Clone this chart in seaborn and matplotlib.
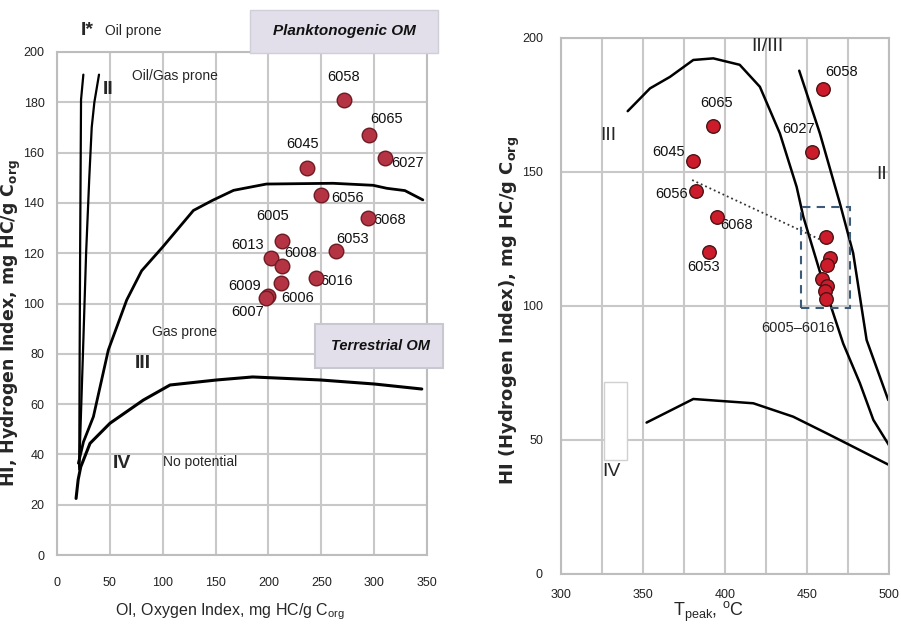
import numpy as np
import pandas as pd
import seaborn as sns
import matplotlib.pyplot as plt
from matplotlib.patches import Rectangle

# left panel: HI vs OI (pseudo van Krevelen)
left_samples = ["6058", "6065", "6027", "6045", "6056", "6068", "6005",
                "6013", "6008", "6053", "6016", "6006", "6009", "6007"]
oi_values = [271, 295, 310, 236, 250, 294, 213, 202, 213, 264, 245, 212, 200, 198]
hi_left = [181, 167, 158, 154, 143, 134, 125, 118, 115, 121, 110, 108, 103, 102]

type1_oi = [21, 21.4, 21.8, 22.7, 24.9]
type1_hi = [34, 80, 117, 181, 191]
type2_oi = [21, 24.5, 27.5, 30.5, 32.8, 35.3, 39.7]
type2_hi = [35, 80, 120, 150, 170, 180, 191]
type3_oi = [20.2, 25, 34.4, 48.5, 65.9, 80, 100, 129, 147, 167, 198, 261, 299, 312, 329, 346]
type3_hi = [36.5, 45, 55, 81.5, 101.4, 113, 122.5, 137, 141, 145, 147.5, 147.8, 147, 145.8, 144.9, 141.2]
type4_oi = [18, 20, 22.4, 31.2, 50.1, 81.6, 106.9, 151, 185, 249, 300, 345]
type4_hi = [22.5, 30, 35, 44.4, 52.4, 61.6, 67.6, 69.6, 70.8, 69.6, 68, 66]

# right panel: HI vs Tpeak
right_samples = ["6058", "6065", "6027", "6045", "6056", "6068", "6053",
                 "", "", "", "", "", "", ""]
tpeak_values = [459.6, 392.5, 453.3, 380.3, 382.1, 395, 390.4,
                461.4, 464, 462.4, 459.3, 462, 461, 461.4]
hi_right = [181, 167.2, 157.6, 154.2, 143, 133.3, 120.3,
            125.9, 117.8, 115.3, 110.1, 107.5, 105.7, 102.5]

arc3_t = [340.7, 354.3, 366.5, 380.7, 392.9, 409, 421.3, 433.5, 443.7, 447.8,
          460, 472.1, 482.3, 490.5, 500]
arc3_hi = [172.7, 181.2, 185.5, 191.8, 192.4, 190, 181.8, 164.4, 144.5, 133.3,
           108.5, 86, 71.2, 57.5, 48.1]
line2_t = [445.3, 457.9, 470.1, 478.2, 486.4, 499.6]
line2_hi = [187.8, 164.4, 138.3, 119.7, 87.3, 64.9]
line4_t = [352.2, 380.7, 417.3, 441.6, 462, 476.2, 500]
line4_hi = [56.5, 65.3, 63.7, 58.7, 52.5, 48.1, 40.7]

# label offsets in pixels (dx, dy)
left_offsets = {"6058": (0, 23), "6065": (18, 16), "6027": (23, -5), "6045": (-4, 24),
                "6056": (26, -3), "6068": (22, -2), "6005": (-10, 25), "6013": (-23, 13),
                "6008": (18, 13), "6053": (16, 12), "6016": (21, -3), "6006": (16, -15),
                "6009": (-24, 10), "6007": (-19, -14)}
right_offsets = {"6058": (19, 17), "6065": (4, 23), "6027": (-14, 23), "6045": (-24, 9),
                 "6056": (-24, -3), "6068": (20, -8), "6053": (-6, -15)}

sns.set_style("whitegrid")
plt.rcParams['font.family'] = ['Liberation Sans', 'DejaVu Sans']
GRID = "#c8c8c8"

fig = plt.figure(figsize=(9.01, 6.28), dpi=100)
ax1 = fig.add_axes([0.0633, 0.1162, 0.4107, 0.801])
ax2 = fig.add_axes([0.6226, 0.086, 0.364, 0.8535])

for ax in (ax1, ax2):
    ax.grid(True, color=GRID, lw=1.5, which="both")
    ax.tick_params(length=0, labelsize=9, colors="#222222")
    for s in ax.spines.values():
        s.set_visible(True)
        s.set_color("#bdbdbd")
        s.set_linewidth(1.5)
    ax.set_axisbelow(True)

# ---- left
ax1.set_xlim(0, 350)
ax1.set_ylim(0, 200)
ax1.set_xticks(np.arange(0, 351, 50))
ax1.set_yticks(np.arange(0, 201, 20))
ax1.tick_params(axis="x", pad=16)
ax1.tick_params(axis="y", pad=9)

for xs, ys, lw in [(type1_oi, type1_hi, 1.6), (type2_oi, type2_hi, 1.6),
                   (type3_oi, type3_hi, 2.0), (type4_oi, type4_hi, 2.2)]:
    sns.lineplot(x=xs, y=ys, sort=False, estimator=None, color="black", lw=lw, ax=ax1)

sns.scatterplot(x=oi_values, y=hi_left, s=110, color="#b43444", edgecolor="#6e1a22",
                linewidth=1, ax=ax1, zorder=5, legend=False)
for name, x, y in zip(left_samples, oi_values, hi_left):
    dx, dy = left_offsets[name]
    ax1.annotate(name, (x, y), xytext=(dx, dy), textcoords="offset pixels",
                 ha="center", va="center", fontsize=10.5, color="#111111")

ax1.text(29, 208.5, "I*", fontsize=14, fontweight="bold", ha="center", va="center")
ax1.text(72, 208.5, "Oil prone", fontsize=10, ha="center", va="center")
ax1.text(48, 185, "II", fontsize=14, fontweight="bold", ha="center", va="center")
ax1.text(111.5, 190.5, "Oil/Gas prone", fontsize=10, ha="center", va="center")
ax1.text(121, 88.5, "Gas prone", fontsize=10, ha="center", va="center")
ax1.text(81.5, 76, "III", fontsize=14, fontweight="bold", ha="center", va="center")
ax1.text(61, 36.5, "IV", fontsize=14, fontweight="bold", ha="center", va="center")
ax1.text(135, 37, "No potential", fontsize=10, ha="center", va="center")

fig.add_artist(Rectangle((0.2775, 0.9156), 0.2087, 0.0685, transform=fig.transFigure,
                         facecolor="#e2dfea", edgecolor="#cfcfd8", lw=1))
fig.text(0.382, 0.951, "Planktonogenic OM", fontsize=11, fontweight="bold",
         style="italic", ha="center", va="center", color="#111111")
fig.add_artist(Rectangle((0.3496, 0.414), 0.142, 0.070, transform=fig.transFigure,
                         facecolor="#e2dfea", edgecolor="#c8c8d0", lw=1.5))
fig.text(0.4217, 0.449, "Terrestrial OM", fontsize=10.5, fontweight="bold",
         style="italic", ha="center", va="center", color="#111111")

fig.text(0.255, 0.026, "OI, Oxygen Index, mg HC/g C$_\\mathregular{org}$", fontsize=11.5,
         ha="center", va="center")
fig.text(0.0125, 0.485, "HI, Hydrogen Index, mg HC/g C$_\\mathregular{org}$", fontsize=12.5,
         fontweight="bold", rotation=90, ha="center", va="center", family="DejaVu Sans")

# ---- right
ax2.set_xlim(300, 500)
ax2.set_ylim(0, 200)
ax2.set_xticks(np.arange(300, 501, 50))
ax2.set_xticks(np.arange(325, 500, 50), minor=True)
ax2.set_yticks(np.arange(0, 201, 50))
ax2.tick_params(axis="x", pad=11, which="both", length=0)
ax2.tick_params(axis="y", pad=13)

ax2.add_patch(Rectangle((326.4, 42.5), 13.6, 29.3, facecolor="white",
                        edgecolor="#d0d0d0", lw=1, zorder=2))

for xs, ys in [(arc3_t, arc3_hi), (line2_t, line2_hi), (line4_t, line4_hi)]:
    sns.lineplot(x=xs, y=ys, sort=False, estimator=None, color="black", lw=1.8, ax=ax2)

ax2.add_patch(Rectangle((446.5, 99.1), 30, 37.9, facecolor="none", edgecolor="#3d5a78",
                        lw=1.5, ls=(0, (4, 3)), zorder=4))
sns.lineplot(x=[380, 463], y=[147, 123.4], sort=False, estimator=None, color="#333333",
             lw=1.3, ls=":", ax=ax2)

sns.scatterplot(x=tpeak_values, y=hi_right, s=95, color="#cc1c2c", edgecolor="#4a1414",
                linewidth=1, ax=ax2, zorder=5, legend=False)
for name, x, y in zip(right_samples, tpeak_values, hi_right):
    if name:
        dx, dy = right_offsets[name]
        ax2.annotate(name, (x, y), xytext=(dx, dy), textcoords="offset pixels",
                     ha="center", va="center", fontsize=10.5, color="#111111")

ax2.text(329, 163.8, "III", fontsize=14, ha="center", va="center")
ax2.text(426, 196.7, "II/III", fontsize=14, ha="center", va="center")
ax2.text(495.5, 149, "II", fontsize=14, ha="center", va="center")
ax2.text(331, 38.2, "IV", fontsize=14, ha="center", va="center")
ax2.text(444.7, 91.7, "6005\u20136016", fontsize=10.5, ha="center", va="center")

fig.text(0.786, 0.026, "T$_\\mathregular{peak}$, $^\\mathregular{o}$C", fontsize=13,
         ha="center", va="center")
fig.text(0.566, 0.505, "HI (Hydrogen Index), mg HC/g C$_\\mathregular{org}$", fontsize=13,
         fontweight="bold", rotation=90, ha="center", va="center", family="DejaVu Sans")

fig.savefig("out.png", dpi=100)
